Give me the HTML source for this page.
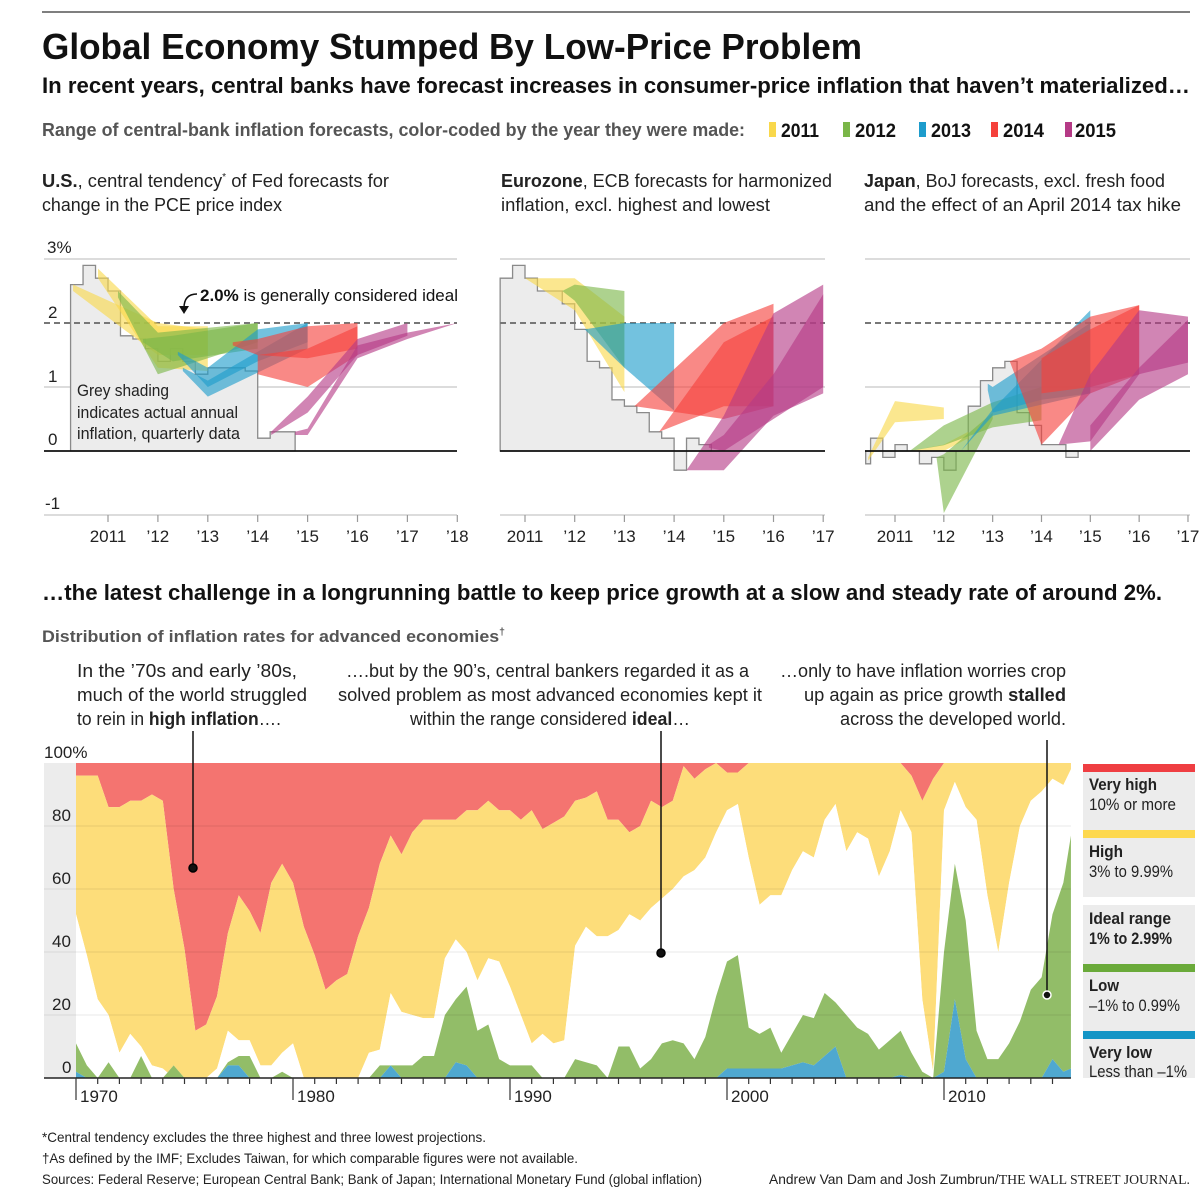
<!DOCTYPE html>
<html><head><meta charset="utf-8"><style>
html,body{margin:0;padding:0;background:#fff;}
svg{display:block;font-family:"Liberation Sans",sans-serif;}
</style></head><body>
<svg id="root" width="1200" height="1188" viewBox="0 0 1200 1188" xmlns="http://www.w3.org/2000/svg">
<rect x="0" y="0" width="1200" height="1188" fill="#fff"/>
<line x1="42" y1="12" x2="1190" y2="12" stroke="#333" stroke-width="1.2"/>
<text x="42" y="59" font-size="36" font-weight="bold" fill="#111" textLength="820" lengthAdjust="spacingAndGlyphs">Global Economy Stumped By Low-Price Problem</text>
<text x="42" y="93" font-size="22" font-weight="bold" fill="#111" textLength="1148" lengthAdjust="spacingAndGlyphs">In recent years, central banks have forecast increases in consumer-price inflation that haven’t materialized…</text>
<text x="42" y="136" font-size="18" font-weight="bold" fill="#555" textLength="703" lengthAdjust="spacingAndGlyphs">Range of central-bank inflation forecasts, color-coded by the year they were made:</text>
<g>
<rect x="769" y="122" width="7" height="15" fill="#f9d84b"/>
<text x="781" y="137" font-size="19" font-weight="bold" fill="#111" textLength="38" lengthAdjust="spacingAndGlyphs">2011</text>
<rect x="843" y="122" width="7" height="15" fill="#7ab648"/>
<text x="855" y="137" font-size="19" font-weight="bold" fill="#111" textLength="41" lengthAdjust="spacingAndGlyphs">2012</text>
<rect x="919" y="122" width="7" height="15" fill="#1d9ccc"/>
<text x="931" y="137" font-size="19" font-weight="bold" fill="#111" textLength="40" lengthAdjust="spacingAndGlyphs">2013</text>
<rect x="991" y="122" width="7" height="15" fill="#f5413b"/>
<text x="1003" y="137" font-size="19" font-weight="bold" fill="#111" textLength="41" lengthAdjust="spacingAndGlyphs">2014</text>
<rect x="1065" y="122" width="7" height="15" fill="#b53a86"/>
<text x="1075" y="137" font-size="19" font-weight="bold" fill="#111" textLength="41" lengthAdjust="spacingAndGlyphs">2015</text>
</g>
<g font-size="18" fill="#222">
<text x="42" y="187" textLength="347" lengthAdjust="spacingAndGlyphs"><tspan font-weight="bold">U.S.</tspan>, central tendency<tspan font-size="10" dy="-7">*</tspan><tspan dy="7"> of Fed forecasts for</tspan></text>
<text x="42" y="211" textLength="240" lengthAdjust="spacingAndGlyphs">change in the PCE price index</text>
<text x="501" y="187" textLength="331" lengthAdjust="spacingAndGlyphs"><tspan font-weight="bold">Eurozone</tspan>, ECB forecasts for harmonized</text>
<text x="501" y="211" textLength="269" lengthAdjust="spacingAndGlyphs">inflation, excl. highest and lowest</text>
<text x="864" y="187" textLength="301" lengthAdjust="spacingAndGlyphs"><tspan font-weight="bold">Japan</tspan>, BoJ forecasts, excl. fresh food</text>
<text x="864" y="211" textLength="317" lengthAdjust="spacingAndGlyphs">and the effect of an April 2014 tax hike</text>
</g>
<g id="top-charts"></g>
<g font-size="17" fill="#222">
<text x="47" y="253">3%</text>
<text x="48" y="318">2</text>
<text x="48" y="382">1</text>
<text x="48" y="445">0</text>
<text x="45" y="509">-1</text>
</g>
<text x="200" y="301" font-size="17" fill="#111" textLength="258" lengthAdjust="spacingAndGlyphs"><tspan font-weight="bold">2.0%</tspan> is generally considered ideal</text>
<path d="M197,294 Q184,294 184,308" fill="none" stroke="#111" stroke-width="1.5"/>
<polygon points="179,306 189,306 184,314" fill="#111"/>
<g font-size="17" fill="#222">
<text x="77" y="396" textLength="92" lengthAdjust="spacingAndGlyphs">Grey shading</text>
<text x="77" y="418" textLength="161" lengthAdjust="spacingAndGlyphs">indicates actual annual</text>
<text x="77" y="439" textLength="163" lengthAdjust="spacingAndGlyphs">inflation, quarterly data</text>
</g>
<text x="42" y="600" font-size="22" font-weight="bold" fill="#111" textLength="1120" lengthAdjust="spacingAndGlyphs">…the latest challenge in a longrunning battle to keep price growth at a slow and steady rate of around 2%.</text>
<text x="42" y="642" font-size="17" font-weight="bold" fill="#555" textLength="463" lengthAdjust="spacingAndGlyphs">Distribution of inflation rates for advanced economies<tspan font-size="10" dy="-7">†</tspan></text>
<g font-size="18" fill="#222">
<text x="77" y="677" textLength="220" lengthAdjust="spacingAndGlyphs">In the ’70s and early ’80s,</text>
<text x="77" y="701" textLength="230" lengthAdjust="spacingAndGlyphs">much of the world struggled</text>
<text x="77" y="725" textLength="204" lengthAdjust="spacingAndGlyphs">to rein in <tspan font-weight="bold">high inflation</tspan>….</text>
<text x="346" y="677" textLength="403" lengthAdjust="spacingAndGlyphs">….but by the 90’s, central bankers regarded it as a</text>
<text x="338" y="701" textLength="424" lengthAdjust="spacingAndGlyphs">solved problem as most advanced economies kept it</text>
<text x="410" y="725" textLength="280" lengthAdjust="spacingAndGlyphs">within the range considered <tspan font-weight="bold">ideal</tspan>…</text>
<text x="780" y="677" textLength="286" lengthAdjust="spacingAndGlyphs">…only to have inflation worries crop</text>
<text x="804" y="701" textLength="262" lengthAdjust="spacingAndGlyphs">up again as price growth <tspan font-weight="bold">stalled</tspan></text>
<text x="840" y="725" textLength="226" lengthAdjust="spacingAndGlyphs">across the developed world.</text>
</g>
<g id="bottom-chart"></g>
<g id="legend2">
<rect x="1083" y="764" width="112" height="314" fill="#ececec"/>
<rect x="1083" y="764" width="112" height="8" fill="#ef3e42"/>
<rect x="1083" y="830" width="112" height="8" fill="#fdd84e"/>
<rect x="1083" y="897" width="112" height="8" fill="#fff"/>
<rect x="1083" y="964" width="112" height="8" fill="#6aaa3a"/>
<rect x="1083" y="1031" width="112" height="8" fill="#1495c6"/>
<g font-size="17" fill="#222">
<text x="1089" y="790" font-weight="bold" textLength="68" lengthAdjust="spacingAndGlyphs">Very high</text>
<text x="1089" y="810" textLength="87" lengthAdjust="spacingAndGlyphs">10% or more</text>
<text x="1089" y="857" font-weight="bold" textLength="34" lengthAdjust="spacingAndGlyphs">High</text>
<text x="1089" y="877" textLength="84" lengthAdjust="spacingAndGlyphs">3% to 9.99%</text>
<text x="1089" y="924" font-weight="bold" textLength="82" lengthAdjust="spacingAndGlyphs">Ideal range</text>
<text x="1089" y="944" font-weight="bold" textLength="83" lengthAdjust="spacingAndGlyphs">1% to 2.99%</text>
<text x="1089" y="991" font-weight="bold" textLength="30" lengthAdjust="spacingAndGlyphs">Low</text>
<text x="1089" y="1011" textLength="91" lengthAdjust="spacingAndGlyphs">–1% to 0.99%</text>
<text x="1089" y="1058" font-weight="bold" textLength="63" lengthAdjust="spacingAndGlyphs">Very low</text>
<text x="1089" y="1077" textLength="98" lengthAdjust="spacingAndGlyphs">Less than –1%</text>
</g></g>
<g font-size="14" fill="#222">
<text x="42" y="1142" textLength="444" lengthAdjust="spacingAndGlyphs">*Central tendency excludes the three highest and three lowest projections.</text>
<text x="42" y="1163" textLength="536" lengthAdjust="spacingAndGlyphs">†As defined by the IMF; Excludes Taiwan, for which comparable figures were not available.</text>
<text x="42" y="1184" textLength="660" lengthAdjust="spacingAndGlyphs">Sources: Federal Reserve; European Central Bank; Bank of Japan; International Monetary Fund (global inflation)</text>
<text x="769" y="1184" textLength="421" lengthAdjust="spacingAndGlyphs">Andrew Van Dam and Josh Zumbrun/<tspan font-family="Liberation Serif,serif">THE WALL STREET JOURNAL.</tspan></text>
</g>
</svg>
<script>
// ===== Top panels data =====
const usActualYears = [2010.25,2010.5,2010.75,2011,2011.25,2011.5,2011.75,2012,2012.25,2012.5,2012.75,2013,2013.25,2013.5,2013.75,2014,2014.25,2014.5,2014.75];
const usActualValues = [2.6,2.9,2.7,2.5,1.8,1.75,1.6,1.4,1.6,1.4,1.2,1.3,1.3,1.3,1.25,0.2,0.3,0.3];
const ezActualYears = [2010.5,2010.75,2011,2011.25,2011.5,2011.75,2012,2012.25,2012.5,2012.75,2013,2013.25,2013.5,2013.75,2014,2014.25,2014.5,2014.75];
const ezActualValues = [2.7,2.9,2.7,2.5,2.5,2.3,1.9,1.4,1.3,0.8,0.7,0.6,0.3,0.2,-0.3,0.2,0.1];
const jpActualYears = [2010.4,2010.5,2010.75,2011,2011.25,2011.5,2011.75,2012,2012.25,2012.5,2012.75,2013,2013.25,2013.5,2013.75,2014,2014.25,2014.5,2014.75];
const jpActualValues = [-0.2,0.2,-0.1,0.1,0,-0.2,-0.1,-0.3,0,0.7,1.1,1.3,1.4,0.6,0.4,0.1,0.1,-0.1];

const bandColors = {2011:'#f9d84b',2012:'#7ab648',2013:'#1d9ccc',2014:'#f5413b',2015:'#b53a86'};

const usBandMade = [2011,2011,2012,2012,2013,2013,2014,2014,2015,2015];
const usBandYears = [[2010.3,2012,2013],[2010.8,2012,2013],[2011.2,2012,2014],[2011.7,2012.3,2014],[2012.5,2013,2015],[2012.4,2013,2014,2015],[2013.5,2014,2015,2016],[2014,2015,2016],[2014.27,2015,2016,2017],[2014.75,2015,2016,2017,2018]];
const usBandUpper = [[2.6,2.0,1.9],[2.85,1.95,1.95],[2.5,1.85,2.0],[1.75,1.8,2.0],[1.3,1.1,2.0],[1.55,1.3,1.9,2.0],[1.7,1.75,1.95,2.0],[1.5,1.6,1.95],[0.3,0.85,1.75,2.0],[0.3,0.35,1.65,1.85,2.0]];
const usBandLower = [[2.5,1.5,1.5],[2.7,1.3,1.25],[2.4,1.2,1.7],[1.7,1.4,1.6],[1.25,0.85,1.6],[1.5,1.0,1.4,1.7],[1.65,1.5,1.45,1.6],[1.2,1.0,1.5],[0.25,0.6,1.5,1.8],[0.25,0.25,1.45,1.75,2.0]];

const ezBandMade = [2011,2012,2013,2014,2014,2015,2015];
const ezBandYears = [[2011,2012,2013],[2011.75,2012,2013],[2012.2,2013,2014],[2013.2,2015,2016],[2013.7,2015,2016],[2014.25,2015,2016,2017],[2014.7,2015,2016,2017]];
const ezBandUpper = [[2.7,2.7,2.1],[2.5,2.6,2.5],[1.9,2.0,2.0],[0.7,2.0,2.3],[0.3,1.7,2.1],[-0.3,0.55,2.15,2.6],[0.1,0.25,1.2,2.45]];
const ezBandLower = [[2.7,2.2,0.92],[2.5,2.35,1.3],[1.9,1.3,0.63],[0.7,0.5,0.7],[0.3,0.7,0.7],[-0.3,-0.3,0.55,0.9],[0.05,0.0,0.5,1.0]];

const jpBandMade = [2011,2011,2012,2012,2013,2013,2014,2014,2015,2015];
const jpBandYears = [[2010.45,2011,2012],[2011.3,2012,2012.5],[2011.3,2012,2013,2014],[2011.85,2012,2013],[2012.35,2013,2015],[2012.9,2013,2014,2015],[2013.35,2014,2015,2016],[2014,2015,2016],[2014.35,2015,2016,2017],[2015,2016,2017]];
const jpBandUpper = [[-0.1,0.78,0.68],[0,0.1,0.3],[0,0.4,0.76,1.0],[-0.1,-0.05,0.6],[0,0.65,2.2],[1.05,1.0,1.5,2.0],[1.4,1.6,2.1,2.28],[1.45,1.9,2.28],[0.1,1.2,2.2,2.1],[0.4,1.3,2.05]];
const jpBandLower = [[-0.15,0.45,0.5],[0,0,0.2],[0,0.09,0.37,0.48],[-0.1,-0.97,0.5],[0,0.55,0.9],[0.95,0.6,0.8,0.9],[1.4,0.1,0.9,1.2],[0.9,1.0,1.2],[0.1,0.15,1.2,1.38],[0,0.8,1.2]];

const usTickLabels = ['2011',"’12","’13","’14","’15","’16","’17","’18"];
const ezTickLabels = ['2011',"’12","’13","’14","’15","’16","’17"];
const jpTickLabels = ['2011',"’12","’13","’14","’15","’16","’17"];

// ===== Bottom chart data (cumulative shares, %) =====
const distYears = [1970,1970.5,1971,1971.5,1972,1972.5,1973,1973.5,1974,1974.5,1975,1975.5,1976,1976.5,1977,1977.5,1978,1978.5,1979,1979.5,1980,1980.5,1981,1981.5,1982,1982.5,1983,1983.5,1984,1984.5,1985,1985.5,1986,1986.5,1987,1987.5,1988,1988.5,1989,1989.5,1990,1990.5,1991,1991.5,1992,1992.5,1993,1993.5,1994,1994.5,1995,1995.5,1996,1996.5,1997,1997.5,1998,1998.5,1999,1999.5,2000,2000.5,2001,2001.5,2002,2002.5,2003,2003.5,2004,2004.5,2005,2005.5,2006,2006.5,2007,2007.5,2008,2008.5,2009,2009.5,2010,2010.5,2011,2011.5,2012,2012.5,2013,2013.5,2014,2014.5,2015,2015.5,2015.85];
const veryLowShare = [2,0,0,0,0,0,0,0,0,0,0,0,0,0,4,4,0,0,0,0,0,0,0,0,0,0,0,0,0,4,0,0,0,0,0,5,4,0,0,0,0,0,0,0,0,0,0,0,0,0,0,0,0,0,0,0,0,0,0,0,3,3,3,3,3,3,4,5,4,7,10,0,0,0,0,0,1,0,0,0,2,25,6,0,0,0,0,0,0,0,6,2,3];
const upToLowTop = [11,4,0,5,0,0,7,0,0,4,0,0,0,0,5,7,7,0,0,2,0,0,0,0,0,0,0,0,4,4,4,4,7,7,20,25,29,15,17,6,4,4,4,0,0,0,6,5,4,0,10,10,3,6,11,12,11,6,13,26,37,39,16,14,16,8,14,20,19,27,24,20,16,14,9,12,15,8,2,0,40,68,50,15,6,6,11,18,28,32,52,62,77];
const upToIdealTop = [52,39,25,20,8,14,10,4,3,0,0,0,0,3,15,12,12,4,4,8,11,0,0,0,0,0,0,8,9,27,21,20,19,19,38,44,40,31,38,37,29,20,11,14,11,12,42,48,45,45,47,52,50,54,57,60,64,66,70,78,85,87,70,55,58,58,66,72,70,82,87,72,78,76,64,72,85,78,25,2,85,94,86,82,58,40,62,80,88,91,95,93,98];
const upToHighTop = [96,96,96,86,86,88,88,90,88,60,41,15,17,26,46,58,53,46,62,68,62,48,39,28,31,33,45,54,68,77,71,78,82,82,82,82,85,85,88,85,85,82,85,79,81,83,88,89,91,82,82,78,80,88,86,88,99,95,98,100,97,97,100,100,100,100,100,100,100,100,100,100,100,100,100,100,100,96,88,95,100,100,100,100,100,100,100,100,100,100,100,100,100];
const distYTicks = [0,20,40,60,80,100];
const distYTickLabels = ['0','20','40','60','80','100%'];
const distDecades = [1970,1980,1990,2000,2010];

const NS='http://www.w3.org/2000/svg';
function mk(tag, attrs, parent){const e=document.createElementNS(NS,tag);for(const k in attrs)e.setAttribute(k,attrs[k]);parent.appendChild(e);return e;}

// ---------- top panels ----------
const yT = v => 451 - v*64;
const panels = [
 {name:'us', x0:44, x1:457, xs: y => 108 + (y-2011)*49.9, ay:usActualYears, av:usActualValues, bm:usBandMade, by:usBandYears, bu:usBandUpper, bl:usBandLower, ticks:usTickLabels},
 {name:'eurozone', x0:500, x1:825, xs: y => 525 + (y-2011)*49.7, ay:ezActualYears, av:ezActualValues, bm:ezBandMade, by:ezBandYears, bu:ezBandUpper, bl:ezBandLower, ticks:ezTickLabels},
 {name:'japan', x0:865, x1:1190, xs: y => 895 + (y-2011)*48.83, ay:jpActualYears, av:jpActualValues, bm:jpBandMade, by:jpBandYears, bu:jpBandUpper, bl:jpBandLower, ticks:jpTickLabels}
];
const topGroup = document.getElementById('top-charts');
panels.forEach(p=>{
  const g = mk('g',{},topGroup);
  
  
  [3,1].forEach(v=>{
    const l = mk('line',{x1:p.x0,x2:p.x1,y1:yT(v),y2:yT(v),stroke:'#c8c8c8','stroke-width':1.2},g);
    
    
  });
  let d = 'M'+p.xs(p.ay[0])+','+yT(0);
  for(let i=0;i<p.av.length;i++){ d += ' L'+p.xs(p.ay[i])+','+yT(p.av[i])+' L'+p.xs(p.ay[i+1])+','+yT(p.av[i]); }
  d += ' L'+p.xs(p.ay[p.av.length])+','+yT(0)+'Z';
  const a = mk('path',{d:d,fill:'#ececec',stroke:'#8a8a8a','stroke-width':1.3},g);
  
  
  const dl = mk('line',{x1:p.x0,x2:p.x1,y1:yT(2),y2:yT(2),stroke:'#777','stroke-width':2,'stroke-dasharray':'6,4'},g);
  
  
  for(let b=0;b<p.by.length;b++){
    const pts=[];
    for(let i=0;i<p.by[b].length;i++) pts.push(p.xs(p.by[b][i])+','+yT(p.bu[b][i]));
    for(let i=p.by[b].length-1;i>=0;i--) pts.push(p.xs(p.by[b][i])+','+yT(p.bl[b][i]));
    const poly = mk('polygon',{points:pts.join(' '),fill:bandColors[p.bm[b]],'fill-opacity':0.62},g);
    
    
  }
  const zl = mk('line',{x1:p.x0,x2:p.x1,y1:yT(0),y2:yT(0),stroke:'#111','stroke-width':1.8},g);
  
  
  const ax = mk('line',{x1:p.x0,x2:p.x1,y1:yT(-1),y2:yT(-1),stroke:'#c8c8c8','stroke-width':1.2},g);
  
  
  p.ticks.forEach((t,i)=>{
    const x = p.xs(2011+i);
    const tk = mk('line',{x1:x,x2:x,y1:yT(-1),y2:yT(-1)+7,stroke:'#999','stroke-width':1.2},g);
    
    
    const tx = mk('text',{x:x,y:542,'text-anchor':'middle','font-size':17,fill:'#222'},g);
    tx.textContent = t;
    
    
  });
});

// ---------- bottom chart ----------
const xB = y => 76 + (y-1970)*21.7;
const yB = v => 1078 - v*3.15;
const bc = document.getElementById('bottom-chart');
const strip = mk('rect',{x:44,y:yB(100),width:32,height:yB(0)-yB(100),fill:'#ececec'},bc);


function areaBetween(lo, hi, fill, name){
  const pts=[];
  for(let i=0;i<distYears.length;i++) pts.push(xB(distYears[i])+','+yB(hi(i)));
  for(let i=distYears.length-1;i>=0;i--) pts.push(xB(distYears[i])+','+yB(lo(i)));
  const el = mk('polygon',{points:pts.join(' '),fill:fill},bc);
  
  
}
areaBetween(i=>upToHighTop[i], i=>100, '#f47470', 'very-high-area');
areaBetween(i=>upToIdealTop[i], i=>upToHighTop[i], '#fddd7a', 'high-area');
areaBetween(i=>upToLowTop[i], i=>upToIdealTop[i], '#ffffff', 'ideal-area');
areaBetween(i=>veryLowShare[i], i=>upToLowTop[i], '#92bd68', 'low-area');
areaBetween(i=>0, i=>veryLowShare[i], '#4fa8d0', 'very-low-area');
distYTicks.forEach((v,i)=>{
  if(v>0 && v<100){
    const gl = mk('line',{x1:44,x2:xB(2015.85),y1:yB(v),y2:yB(v),stroke:'#000','stroke-opacity':0.06,'stroke-width':1.5},bc);
    
    
  }
  const t = mk('text',{x:v===100?44:(v===0?62:52),y:yB(v)-5,'font-size':17,fill:'#222'},bc);
  t.textContent = distYTickLabels[i];
  
  
});
const axis = mk('line',{x1:44,x2:xB(2015.85),y1:yB(0),y2:yB(0),stroke:'#222','stroke-width':1.5},bc);


for(let y=1970;y<=2015;y++){
  const dec = distDecades.indexOf(y)>=0;
  const tk = mk('line',{x1:xB(y),x2:xB(y),y1:yB(0),y2:yB(0)+(dec?22:6),stroke:'#333','stroke-width':1.2},bc);
  
  
}
distDecades.forEach(y=>{
  const t = mk('text',{x:xB(y)+4,y:1102,'font-size':17,fill:'#222'},bc);
  t.textContent = String(y);
  
  
});
[[193,731,868,'#000'],[661,731,953,'#000'],[1047,740,995,'#fff']].forEach((L)=>{
  const ln = mk('line',{x1:L[0],x2:L[0],y1:L[1],y2:L[2],stroke:'#111','stroke-width':1.5},bc);
  
  
  const c = mk('circle',{cx:L[0],cy:L[2],r:4,fill:'#111',stroke:L[3],'stroke-width':1.5},bc);
  
  
});
</script>
</body></html>
